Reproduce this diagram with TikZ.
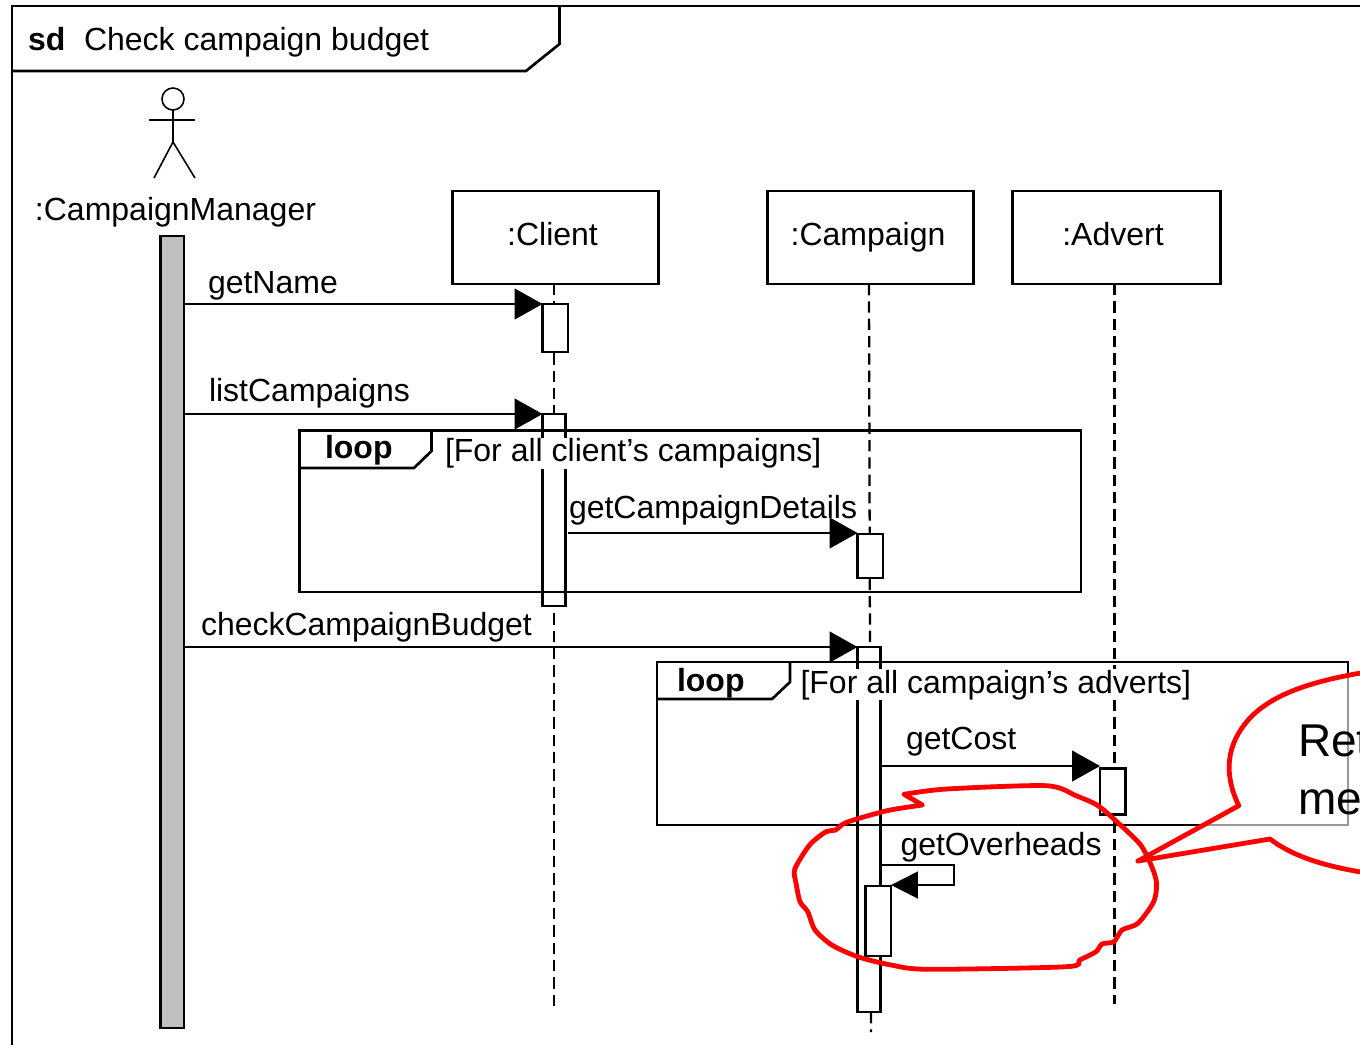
\documentclass[tikz,border=0pt]{standalone}
\usepackage{fontspec}
\setmainfont{Liberation Sans}
\usetikzlibrary{arrows.meta}
\tikzset{
  x=0.75pt,y=-0.75pt,
  line/.style={draw=black,line width=2pt,line join=miter},
  thinline/.style={draw=black,line width=1.2pt},
  txt/.style={inner sep=0pt,outer sep=0pt,anchor=base west,font=\fontsize{24}{24}\selectfont},
  ctxt/.style={txt,anchor=base},
  btxt/.style={txt,font=\fontsize{24}{24}\selectfont\bfseries},
  guard/.style={txt,fill=white,inner xsep=0pt,inner ysep=0.5pt},
  objbox/.style={line,fill=white,inner sep=0pt,outer sep=0pt,anchor=north west,minimum width=154.5pt,minimum height=69.75pt},
  act/.style={line,fill=white,inner sep=0pt,outer sep=0pt,anchor=north west,minimum width=#1},
  life/.style={draw=black,line width=1.7pt,dash pattern=on 8.5pt off 4.5pt},
  msg/.style={line,-{Triangle[length=21pt,width=23pt,fill=black]}},
  selfmsg/.style={draw=black,line width=1.5pt,-{Triangle[length=20pt,width=20pt,fill=black]}},
  redline/.style={draw=red,line width=3.6pt,line join=round,line cap=round},
}
\begin{document}
\begin{tikzpicture}
\fill[white] (0,0) rectangle (1360,1045);
\useasboundingbox (0,0) rectangle (1360,1045);

% outer frame
\coordinate (fTL) at (12,6);
\coordinate (fTR) at (1360,6);
\coordinate (fBL) at (12,1045);
\draw[line] (fBL) -- (fTL) -- (fTR);
\draw[line] (12,71) -- (526,71) -- (559.5,44) -- (559.5,6);
\node[txt,font=\fontsize{24}{24}\selectfont\bfseries] (sdk) at (28,50.5) {sd};
\node[txt] (sdname) at (84,50.5) {Check campaign budget};

% actor
\node[circle,thinline,minimum size=16.5pt,inner sep=0pt,outer sep=0pt] (head) at (173,99) {};
\coordinate (hip) at (173,142);
\coordinate (armL) at (149,120);
\coordinate (armR) at (195,120);
\coordinate (legL) at (154,178);
\coordinate (legR) at (195,178);
\draw[thinline] (head.south) -- (hip);
\draw[thinline] (armL) -- (armR);
\draw[thinline] (legL) -- (hip) -- (legR);
\node[ctxt] (mgrlabel) at (175.5,220) {:CampaignManager};

% objects
\node[line,fill=black!25,inner sep=0pt,outer sep=0pt,anchor=north west,minimum width=17.5pt,minimum height=594pt] (mgr) at (160.5,236) {};
\node[objbox] (client) at (452.5,191) {};
\node[objbox] (campaign) at (767.5,191) {};
\node[objbox,minimum width=156pt] (advert) at (1012.5,191) {};
\node[ctxt] (clientlabel) at (552.5,245) {:Client};
\node[ctxt] (campaignlabel) at (868,245) {:Campaign};
\node[ctxt] (advertlabel) at (1113,245) {:Advert};

% lifelines
\coordinate (clientEnd) at (554,1012);
\coordinate (campaignEnd) at (871,1032);
\coordinate (advertEnd) at (1114.5,1004);
\draw[life] (554,284) -- (clientEnd);
\draw[life] (869,284) -- (campaignEnd);
\draw[life] (1114.5,284) -- (advertEnd);

% activations
\node[act=19.2pt,minimum height=36pt] (a1) at (542.5,304) {};
\node[act=17pt,minimum height=144pt] (a2) at (542.5,414) {};
\node[act=19.2pt,minimum height=33pt] (a3) at (857.5,534) {};
\node[act=17pt,minimum height=273.75pt] (a4) at (857.5,647) {};
\node[act=19.2pt,minimum height=34.5pt] (a5) at (1100,768.5) {};
\node[act=19.2pt,minimum height=52.5pt] (a6) at (865.5,886) {};

% loop 1
\draw[line] (299.5,430.5) rectangle (1081,592);
\draw[line] (299.5,468) -- (414,468) -- (431.5,451) -- (431.5,430.5);
\node[btxt] (loopA) at (325,458) {loop};
\node[guard] (guardA) at (445,461.5) {[For all client’s campaigns]};

% loop 2
\draw[line] (657,662) rectangle (1348,825);
\draw[line] (657,699) -- (772,699) -- (790,682) -- (790,662);
\node[btxt] (loopB) at (677,691) {loop};
\node[guard] (guardB) at (800.5,693) {[For all campaign’s adverts]};

% messages
\node[txt] (m1) at (208,293) {getName};
\node[txt] (m2) at (209,401) {listCampaigns};
\node[txt] (m3) at (569,518) {getCampaignDetails};
\node[txt] (m4) at (201,635.5) {checkCampaignBudget};
\node[txt] (m5) at (906,749) {getCost};
\node[txt] (m6) at (900.5,855) {getOverheads};
\coordinate (p1) at (a1.north west);
\coordinate (p2) at (a2.north west);
\coordinate (p3) at (a3.north west);
\coordinate (p4) at (a4.north west);
\coordinate (p5) at (1100,766);
\draw[msg] (mgr.east |- p1) -- (p1);
\draw[msg] (mgr.east |- p2) -- (p2);
\draw[msg] (568,533) -- (a3.west |- 0,533);
\draw[msg] (mgr.east |- p4) -- (p4);
\draw[msg] (a4.east |- p5) -- (p5);
\coordinate (ovA) at (954,865);
\coordinate (ovB) at (954,885);
\draw[selfmsg] (a4.east |- ovA) -- (ovA) -- (ovB) -- (a6.east |- ovB);

% red circled region
\draw[redline] plot[smooth,tension=0.45] coordinates {
 (904,794.3) (946.5,789) (1046.4,785.7) (1076,795.7) (1098,805.7) (1120.4,825)
 (1140.7,845) (1151.8,866.7) (1156.6,883.3) (1153.7,901.7) (1138,923.3) (1122,930)
 (1114,941.7) (1102,944) (1096,951.7) (1079.7,960) (1066.7,966.7) (928,969.3)
 (891,965) (857.7,956.7) (831.8,945) (815,930) (807.7,911.7) (800,901.7)
 (796,883) (794.8,869) (809.6,845) (826,831.7) (835.5,830) (846.6,822.3)
 (887,810.7) (922.4,805)} -- (904,794.3);

% callout bubble, cut by the page edge
\begin{scope}
\clip (0,0) rectangle (1360,1045);
\coordinate (tip) at (1138,861);
\path[fill=white,fill opacity=0.6] (tip) -- (1238.8,805.7)
  .. controls (1224,775) and (1225,745) .. (1250,718)
  .. controls (1272,695) and (1310,680) .. (1380,670)
  -- (1380,875)
  .. controls (1330,868) and (1295,858) .. (1270,839) -- cycle;
\draw[redline] (tip) -- (1238.8,805.7)
  .. controls (1224,775) and (1225,745) .. (1250,718)
  .. controls (1272,695) and (1310,680) .. (1380,670);
\draw[redline] (1380,875)
  .. controls (1330,868) and (1295,858) .. (1270,839) -- (tip);
\node[txt,font=\fontsize{34.5}{34.5}\selectfont] (noteA) at (1298,756) {Ret};
\node[txt,font=\fontsize{34.5}{34.5}\selectfont] (noteB) at (1298,814) {me};
\end{scope}
\end{tikzpicture}
\end{document}
